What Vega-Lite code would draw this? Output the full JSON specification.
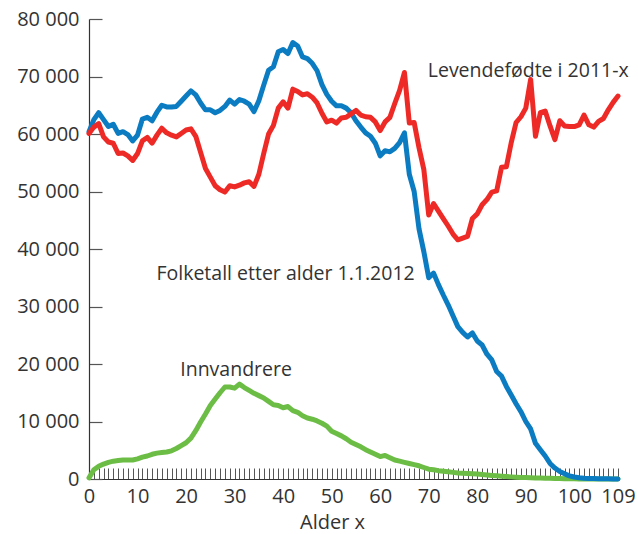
{
  "$schema": "https://vega.github.io/schema/vega-lite/v6.json",
  "width": 529,
  "height": 460,
  "autosize": {"type": "none"},
  "padding": {"left": 89, "top": 19, "right": 20, "bottom": 55},
  "background": "white",
  "config": {
    "view": {"stroke": null},
    "font": "Open Sans",
    "axis": {"grid": false, "ticks": true, "labelFont": "Open Sans", "labelFontSize": 20, "labelFontWeight": 400, "labelColor": "#333333", "titleFont": "Open Sans", "titleFontSize": 20, "titleColor": "#333333", "titleFontWeight": 400, "domainColor": "#333333", "domainWidth": 1.2}
  },
  "layer": [
    {
      "data": {"values": [
        {"age":0,"folketall":60400,"levendefodte":60100,"innvandrere":200},
        {"age":1,"folketall":62500,"levendefodte":61200,"innvandrere":1600},
        {"age":2,"folketall":63700,"levendefodte":61800,"innvandrere":2200},
        {"age":3,"folketall":62500,"levendefodte":59500,"innvandrere":2600},
        {"age":4,"folketall":61300,"levendefodte":58600,"innvandrere":2900},
        {"age":5,"folketall":61700,"levendefodte":58400,"innvandrere":3100},
        {"age":6,"folketall":60100,"levendefodte":56600,"innvandrere":3200},
        {"age":7,"folketall":60400,"levendefodte":56700,"innvandrere":3300},
        {"age":8,"folketall":59900,"levendefodte":56200,"innvandrere":3300},
        {"age":9,"folketall":58800,"levendefodte":55400,"innvandrere":3300},
        {"age":10,"folketall":59800,"levendefodte":56600,"innvandrere":3500},
        {"age":11,"folketall":62600,"levendefodte":58800,"innvandrere":3800},
        {"age":12,"folketall":62900,"levendefodte":59400,"innvandrere":4000},
        {"age":13,"folketall":62300,"levendefodte":58400,"innvandrere":4300},
        {"age":14,"folketall":63800,"levendefodte":59800,"innvandrere":4500},
        {"age":15,"folketall":65000,"levendefodte":61000,"innvandrere":4600},
        {"age":16,"folketall":64700,"levendefodte":60200,"innvandrere":4700},
        {"age":17,"folketall":64700,"levendefodte":59800,"innvandrere":4900},
        {"age":18,"folketall":64800,"levendefodte":59500,"innvandrere":5300},
        {"age":19,"folketall":65700,"levendefodte":60100,"innvandrere":5800},
        {"age":20,"folketall":66600,"levendefodte":60700,"innvandrere":6300},
        {"age":21,"folketall":67500,"levendefodte":60900,"innvandrere":7100},
        {"age":22,"folketall":66800,"levendefodte":59600,"innvandrere":8400},
        {"age":23,"folketall":65400,"levendefodte":56800,"innvandrere":9900},
        {"age":24,"folketall":64200,"levendefodte":54000,"innvandrere":11300},
        {"age":25,"folketall":64200,"levendefodte":52500,"innvandrere":12800},
        {"age":26,"folketall":63700,"levendefodte":51000,"innvandrere":13900},
        {"age":27,"folketall":64100,"levendefodte":50300,"innvandrere":15000},
        {"age":28,"folketall":64800,"levendefodte":49900,"innvandrere":16000},
        {"age":29,"folketall":65900,"levendefodte":51000,"innvandrere":16000},
        {"age":30,"folketall":65200,"levendefodte":50800,"innvandrere":15800},
        {"age":31,"folketall":66000,"levendefodte":51100,"innvandrere":16500},
        {"age":32,"folketall":65700,"levendefodte":51500,"innvandrere":15900},
        {"age":33,"folketall":65200,"levendefodte":51700,"innvandrere":15400},
        {"age":34,"folketall":63900,"levendefodte":50900,"innvandrere":14900},
        {"age":35,"folketall":65800,"levendefodte":53000,"innvandrere":14500},
        {"age":36,"folketall":68500,"levendefodte":56600,"innvandrere":14100},
        {"age":37,"folketall":71100,"levendefodte":60000,"innvandrere":13500},
        {"age":38,"folketall":71700,"levendefodte":61500,"innvandrere":12900},
        {"age":39,"folketall":74300,"levendefodte":64500,"innvandrere":12800},
        {"age":40,"folketall":74700,"levendefodte":65600,"innvandrere":12400},
        {"age":41,"folketall":74000,"levendefodte":64500,"innvandrere":12600},
        {"age":42,"folketall":75900,"levendefodte":67800,"innvandrere":11900},
        {"age":43,"folketall":75300,"levendefodte":67400,"innvandrere":11600},
        {"age":44,"folketall":73400,"levendefodte":66800,"innvandrere":11000},
        {"age":45,"folketall":73100,"levendefodte":67000,"innvandrere":10600},
        {"age":46,"folketall":72300,"levendefodte":66400,"innvandrere":10400},
        {"age":47,"folketall":71000,"levendefodte":65400,"innvandrere":10100},
        {"age":48,"folketall":68600,"levendefodte":63600,"innvandrere":9700},
        {"age":49,"folketall":66900,"levendefodte":62100,"innvandrere":9200},
        {"age":50,"folketall":65700,"levendefodte":62400,"innvandrere":8300},
        {"age":51,"folketall":64900,"levendefodte":61900,"innvandrere":7900},
        {"age":52,"folketall":64900,"levendefodte":62800,"innvandrere":7500},
        {"age":53,"folketall":64500,"levendefodte":62900,"innvandrere":7000},
        {"age":54,"folketall":63700,"levendefodte":63500,"innvandrere":6400},
        {"age":55,"folketall":62300,"levendefodte":64100,"innvandrere":6000},
        {"age":56,"folketall":61200,"levendefodte":63300,"innvandrere":5600},
        {"age":57,"folketall":60200,"levendefodte":63000,"innvandrere":5100},
        {"age":58,"folketall":59600,"levendefodte":62900,"innvandrere":4700},
        {"age":59,"folketall":58400,"levendefodte":62100,"innvandrere":4300},
        {"age":60,"folketall":56200,"levendefodte":60600,"innvandrere":3900},
        {"age":61,"folketall":57100,"levendefodte":62100,"innvandrere":4100},
        {"age":62,"folketall":56900,"levendefodte":62900,"innvandrere":3700},
        {"age":63,"folketall":57500,"levendefodte":65300,"innvandrere":3300},
        {"age":64,"folketall":58500,"levendefodte":67600,"innvandrere":3100},
        {"age":65,"folketall":60200,"levendefodte":70700,"innvandrere":2900},
        {"age":66,"folketall":53000,"levendefodte":61900,"innvandrere":2700},
        {"age":67,"folketall":50000,"levendefodte":62000,"innvandrere":2500},
        {"age":68,"folketall":43500,"levendefodte":57600,"innvandrere":2300},
        {"age":69,"folketall":39500,"levendefodte":53800,"innvandrere":2000},
        {"age":70,"folketall":35000,"levendefodte":45900,"innvandrere":1700},
        {"age":71,"folketall":35800,"levendefodte":47900,"innvandrere":1600},
        {"age":72,"folketall":33800,"levendefodte":46600,"innvandrere":1450},
        {"age":73,"folketall":32000,"levendefodte":45300,"innvandrere":1350},
        {"age":74,"folketall":30300,"levendefodte":44000,"innvandrere":1250},
        {"age":75,"folketall":28400,"levendefodte":42600,"innvandrere":1150},
        {"age":76,"folketall":26500,"levendefodte":41600,"innvandrere":1050},
        {"age":77,"folketall":25500,"levendefodte":41900,"innvandrere":1000},
        {"age":78,"folketall":24700,"levendefodte":42200,"innvandrere":950},
        {"age":79,"folketall":25400,"levendefodte":45300,"innvandrere":900},
        {"age":80,"folketall":24000,"levendefodte":46100,"innvandrere":850},
        {"age":81,"folketall":23300,"levendefodte":47700,"innvandrere":780},
        {"age":82,"folketall":21700,"levendefodte":48600,"innvandrere":700},
        {"age":83,"folketall":20700,"levendefodte":49900,"innvandrere":620},
        {"age":84,"folketall":18700,"levendefodte":50100,"innvandrere":550},
        {"age":85,"folketall":17900,"levendefodte":54200,"innvandrere":480},
        {"age":86,"folketall":16100,"levendefodte":54300,"innvandrere":420},
        {"age":87,"folketall":14600,"levendefodte":58500,"innvandrere":370},
        {"age":88,"folketall":13100,"levendefodte":62000,"innvandrere":320},
        {"age":89,"folketall":11700,"levendefodte":63000,"innvandrere":280},
        {"age":90,"folketall":10000,"levendefodte":64500,"innvandrere":250},
        {"age":91,"folketall":8700,"levendefodte":69500,"innvandrere":220},
        {"age":92,"folketall":6200,"levendefodte":59600,"innvandrere":190},
        {"age":93,"folketall":5100,"levendefodte":63700,"innvandrere":160},
        {"age":94,"folketall":4000,"levendefodte":64000,"innvandrere":140},
        {"age":95,"folketall":2700,"levendefodte":61400,"innvandrere":110},
        {"age":96,"folketall":1900,"levendefodte":59000,"innvandrere":90},
        {"age":97,"folketall":1300,"levendefodte":62300,"innvandrere":70},
        {"age":98,"folketall":900,"levendefodte":61400,"innvandrere":55},
        {"age":99,"folketall":550,"levendefodte":61300,"innvandrere":40},
        {"age":100,"folketall":350,"levendefodte":61300,"innvandrere":30},
        {"age":101,"folketall":220,"levendefodte":61600,"innvandrere":20},
        {"age":102,"folketall":150,"levendefodte":63300,"innvandrere":15},
        {"age":103,"folketall":100,"levendefodte":61600,"innvandrere":10},
        {"age":104,"folketall":70,"levendefodte":61200,"innvandrere":8},
        {"age":105,"folketall":50,"levendefodte":62200,"innvandrere":5},
        {"age":106,"folketall":40,"levendefodte":62700,"innvandrere":4},
        {"age":107,"folketall":30,"levendefodte":64200,"innvandrere":3},
        {"age":108,"folketall":20,"levendefodte":65500,"innvandrere":2},
        {"age":109,"folketall":15,"levendefodte":66600,"innvandrere":1}
      ]},
      "encoding": {
        "x": {
          "field": "age", "type": "quantitative",
          "scale": {"domain": [0, 109], "nice": false, "zero": false},
          "axis": {
            "title": "Alder x",
            "tickCount": 110,
            "labelExpr": "datum.value % 10 == 0 || datum.value == 109 ? '' + datum.value : ''",
            "labelOverlap": false,
            "labelFlush": false,
            "labelBound": false,
            "ticks": true,
            "tickSize": -11,
            "tickColor": "#555555",
            "tickWidth": 1,
            "tickOpacity": 1,
            "labelPadding": 18,
            "titleX": 243,
            "titleY": 49,
            "titleBaseline": "alphabetic",
            "titleAlign": "center"
          }
        }
      },
      "layer": [
        {
          "mark": {"type": "line", "color": "#6cbd45", "strokeWidth": 5, "strokeCap": "round", "strokeJoin": "round"},
          "encoding": {
            "y": {
              "field": "innvandrere", "type": "quantitative",
              "scale": {"domain": [0, 80000], "nice": false},
              "axis": {
                "title": null,
                "values": [0, 10000, 20000, 30000, 40000, 50000, 60000, 70000, 80000],
                "labelExpr": "replace(format(datum.value, ','), ',', ' ')",
                "ticks": true,
                "tickSize": -13,
                "tickColor": "#555555",
                "tickWidth": 1.2,
                "tickOpacity": 1,
                "labelPadding": 23
              }
            }
          }
        },
        {
          "mark": {"type": "line", "color": "#0b7cc1", "strokeWidth": 5, "strokeCap": "round", "strokeJoin": "round"},
          "encoding": {"y": {"field": "folketall", "type": "quantitative"}}
        },
        {
          "mark": {"type": "line", "color": "#ee2a26", "strokeWidth": 5, "strokeCap": "round", "strokeJoin": "round"},
          "encoding": {"y": {"field": "levendefodte", "type": "quantitative"}}
        }
      ]
    },
    {
      "data": {"values": [
        {"label": "Levendefødte i 2011-x", "age": 69.8, "value": 69900},
        {"label": "Folketall etter alder 1.1.2012", "age": 13.9, "value": 34600},
        {"label": "Innvandrere", "age": 18.8, "value": 17900}
      ]},
      "mark": {"type": "text", "align": "left", "baseline": "alphabetic", "fontSize": 19.5, "fontWeight": 400, "color": "#333333"},
      "encoding": {
        "x": {"field": "age", "type": "quantitative"},
        "y": {"field": "value", "type": "quantitative"},
        "text": {"field": "label"}
      }
    }
  ]
}
